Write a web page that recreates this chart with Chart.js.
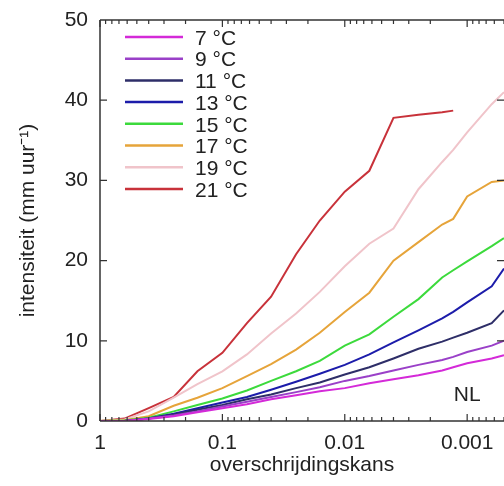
<!DOCTYPE html>
<html lang="nl">
<head>
  <meta charset="utf-8" />
  <title>Intensiteit vs overschrijdingskans</title>
  <script src="https://cdn.jsdelivr.net/npm/chart.js"></script>
  <style>
    html, body { margin: 0; padding: 0; background: #fff; }
    #wrap { width: 504px; height: 486px; }
  </style>
</head>
<body>
  <div id="wrap"><canvas id="myChart"></canvas></div>

  <script>
    // overschrijdingskans (gedeeld voor alle reeksen)
    const kans = [1, 0.63, 0.4, 0.25, 0.16, 0.1, 0.063, 0.04, 0.025, 0.016, 0.01,
                  0.0063, 0.004, 0.0025, 0.0016, 0.0013, 0.001, 0.00063, 0.0005];

    // intensiteit (mm/uur) per dauwpuntstemperatuur
    const t7  = [0, 0, 0.25, 0.6, 1.1, 1.6, 2.1, 2.7, 3.2, 3.7, 4.1, 4.7, 5.2, 5.7, 6.3, 6.7, 7.2, 7.8, 8.2];
    const t9  = [0, 0, 0.3, 0.7, 1.2, 1.8, 2.4, 3.0, 3.6, 4.2, 5.0, 5.6, 6.3, 7.0, 7.6, 8.0, 8.6, 9.4, 10.0];
    const t11 = [0, 0, 0.3, 0.8, 1.4, 2.0, 2.7, 3.3, 4.1, 4.8, 5.8, 6.7, 7.8, 9.0, 9.9, 10.4, 11.0, 12.2, 13.8];
    const t13 = [0, 0, 0.3, 0.9, 1.6, 2.3, 3.0, 3.9, 4.9, 5.9, 7.0, 8.3, 9.8, 11.3, 12.8, 13.6, 14.8, 16.8, 19.0];
    const t15 = [0, 0.05, 0.4, 1.2, 2.0, 2.8, 3.8, 5.0, 6.2, 7.5, 9.4, 10.8, 13.0, 15.2, 17.9, 18.8, 19.9, 21.8, 22.8];
    const t17 = [0, 0.1, 0.6, 1.9, 2.9, 4.1, 5.6, 7.1, 8.9, 11.0, 13.6, 16.0, 20.0, 22.3, 24.5, 25.2, 28.0, 29.8, 30.0];
    const t19 = [0, 0.2, 1.2, 2.9, 4.6, 6.2, 8.3, 10.9, 13.4, 16.1, 19.3, 22.1, 24.0, 28.9, 32.3, 33.8, 36.0, 39.5, 41.0];
    const t21 = [0, 0.3, 1.6, 3.0, 6.2, 8.5, 12.2, 15.5, 20.8, 25.0, 28.6, 31.2, 37.8, 38.2, 38.5, 38.7, null, null, null];

    const reeksen = [
      { label: '7 °C',  data: t7,  color: '#d42ad8' },
      { label: '9 °C',  data: t9,  color: '#9a40c8' },
      { label: '11 °C', data: t11, color: '#2e2e68' },
      { label: '13 °C', data: t13, color: '#1c1caa' },
      { label: '15 °C', data: t15, color: '#3cda3c' },
      { label: '17 °C', data: t17, color: '#e6a43a' },
      { label: '19 °C', data: t19, color: '#f0c4ca' },
      { label: '21 °C', data: t21, color: '#c8323a' }
    ];

    const yTicks = [10, 20, 30, 40];
    const FONT = '"Liberation Sans", Arial, sans-serif';
    const INK = '#222';

    // assen met naar binnen gerichte streepjes + kader + legenda
    const frame = {
      id: 'frame',
      afterDraw(chart) {
        const { ctx, chartArea: a, scales: { x, y } } = chart;
        ctx.save();
        ctx.strokeStyle = '#333';
        ctx.lineWidth = 1.5;
        ctx.beginPath();
        ctx.moveTo(a.left, a.top); ctx.lineTo(a.right, a.top);
        ctx.moveTo(a.left, a.top); ctx.lineTo(a.left, a.bottom);
        ctx.moveTo(a.left, a.bottom); ctx.lineTo(a.right, a.bottom);
        ctx.stroke();

        ctx.lineWidth = 1.2;
        ctx.beginPath();
        for (let e = 0; e >= -4; e--) {
          for (let m = 1; m <= 9; m++) {
            const v = m * Math.pow(10, e);
            if (v > 1 || v < x.min) continue;
            const px = x.getPixelForValue(v);
            const len = m === 1 ? 7 : 4;
            ctx.moveTo(px, a.bottom); ctx.lineTo(px, a.bottom - len);
            ctx.moveTo(px, a.top); ctx.lineTo(px, a.top + len);
          }
        }
        yTicks.forEach(v => {
          const py = y.getPixelForValue(v);
          ctx.moveTo(a.left, py); ctx.lineTo(a.left + 7, py);
          ctx.moveTo(a.right, py); ctx.lineTo(a.right - 7, py);
        });
        ctx.stroke();

        // legenda
        ctx.font = '21px ' + FONT;
        ctx.textBaseline = 'middle';
        ctx.fillStyle = INK;
        chart.data.datasets.forEach((ds, i) => {
          const ly = a.top + 17 + i * 21.7;
          ctx.strokeStyle = ds.borderColor;
          ctx.lineWidth = 2.5;
          ctx.beginPath();
          ctx.moveTo(a.left + 25, ly); ctx.lineTo(a.left + 83, ly);
          ctx.stroke();
          ctx.fillText(ds.label, a.left + 95, ly + 2);
        });

        ctx.textAlign = 'center';
        ctx.fillText('NL', x.getPixelForValue(0.001), y.getPixelForValue(3.2));
        ctx.restore();
      }
    };

    const config = {
      type: 'line',
      data: {
        datasets: reeksen.map(r => ({
          label: r.label,
          data: kans.map((p, i) => ({ x: p, y: r.data[i] })),
          borderColor: r.color,
          backgroundColor: r.color,
          borderWidth: 2,
          pointRadius: 0,
          tension: 0,
          spanGaps: false
        }))
      },
      options: {
        responsive: true,
        maintainAspectRatio: false,
        animation: false,
        layout: { padding: { top: 20, right: 0, left: 0, bottom: 0 } },
        plugins: { legend: { display: false }, tooltip: { enabled: false } },
        scales: {
          x: {
            type: 'logarithmic',
            reverse: true,
            min: 0.0005,
            max: 1,
            grid: { display: false, drawTicks: false },
            border: { display: false },
            afterFit: s => { s.height = 65; s.paddingLeft = 0; s.paddingRight = 0; },
            ticks: {
              autoSkip: false,
              maxRotation: 0,
              padding: 10,
              color: INK,
              font: { family: FONT, size: 21 },
              callback: v => {
                const l = Math.log10(v);
                return Math.abs(l - Math.round(l)) < 1e-6 ? String(Number(v.toPrecision(3))) : '';
              }
            },
            title: {
              display: true,
              text: 'overschrijdingskans',
              color: INK,
              font: { family: FONT, size: 21 },
              padding: { top: 0, bottom: 8 }
            }
          },
          y: {
            min: 0,
            max: 50,
            grid: { display: false, drawTicks: false },
            border: { display: false },
            afterFit: s => { s.width = 100; s.paddingTop = 0; s.paddingBottom = 0; },
            ticks: {
              stepSize: 10,
              padding: 12,
              color: INK,
              font: { family: FONT, size: 21 }
            },
            title: {
              display: true,
              text: 'intensiteit (mm uur⁻¹)',
              color: INK,
              font: { family: FONT, size: 21 },
              padding: { top: 16, bottom: 0 }
            }
          }
        }
      },
      plugins: [frame]
    };

    const myChart = new Chart(document.getElementById('myChart'), config);
  </script>
</body>
</html>
